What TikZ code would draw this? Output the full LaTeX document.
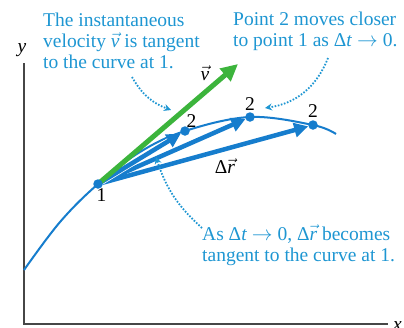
\documentclass[tikz,border=0pt]{standalone}
\usepackage{fontspec}
\setmainfont{Liberation Serif}
\usetikzlibrary{arrows.meta, positioning, calc}
\definecolor{curveblue}{RGB}{22,125,205}
\definecolor{noteblue}{RGB}{30,150,210}
\definecolor{velgreen}{RGB}{60,180,60}
\definecolor{axisgrey}{RGB}{70,70,70}
\newcommand{\dt}{Δ\textit{t}}
\newcommand{\vv}{$\vec{\textit{v}}$}
\newcommand{\vr}{Δ$\vec{\textit{r}}$}
\begin{document}
\begin{tikzpicture}[
  x=1pt, y=-1pt,
  axis/.style={draw=axisgrey, line width=1.3pt},
  path/.style={draw=curveblue, line width=2pt},
  dr/.style={draw=curveblue, line width=4.5pt, -{Triangle[length=14pt, width=14pt]}, shorten >=5pt},
  vel/.style={draw=velgreen, line width=5pt, -{Triangle[length=17pt, width=16pt]}},
  pt/.style={circle, fill=curveblue, inner sep=0pt, minimum size=9.5pt},
  note/.style={text=noteblue, align=left, inner sep=0pt, font=\fontsize{19.5}{21}\selectfont},
  lbl/.style={inner sep=0pt, font=\fontsize{19.5}{21}\selectfont},
  pointer/.style={draw=noteblue, line width=1.8pt, dash pattern=on 1.6pt off 1.6pt,
                  -{Stealth[length=7pt, width=7pt]}}
]
\useasboundingbox (0,0) rectangle (404,327);

% axes
\coordinate (o) at (24,324);
\coordinate (ytop) at (24,63);
\coordinate (xend) at (388,324);
\draw[axis] (ytop) -- (o) -- (xend);
\node[lbl, anchor=base] (ylab) at (22,52) {\textit{y}};
\node[lbl, anchor=base west] (xlab) at (393,330) {\textit{x}};

% the path
\coordinate (p1) at (98,184);
\coordinate (p2a) at (185,131);
\coordinate (p2b) at (250,117);
\coordinate (p2c) at (313,125);
\draw[path] plot[smooth, tension=0.6] coordinates
  {(24,270) (60,222) (p1) (140,152) (p2a) (250,117) (p2c) (336,134)};

% displacement vectors and velocity
\draw[dr] (p1) -- (p2c);
\draw[dr] (p1) -- (p2b);
\draw[dr, preaction={draw=white, line width=6pt, shorten >=12pt, -}] (p1) -- (p2a);
\draw[vel] (p1) -- (238,64) coordinate (vtip);

\node[pt] (n1) at (p1) {};
\node[pt] (n2a) at (p2a) {};
\node[pt] (n2b) at (p2b) {};
\node[pt] (n2c) at (p2c) {};
\node[lbl, below right=1pt and -5pt of n1] (l1) {1};
\node[lbl, above right=0pt and -2pt of n2a] (l2a) {2};
\node[lbl, above=1pt of n2b] (l2b) {2};
\node[lbl, above=2pt of n2c] (l2c) {2};
\node[lbl] (vlab) at (205,73) {\vv};
\node[lbl] (drlab) at (225,166) {\vr};

% notes
\node[note, anchor=north west] (tanv) at (43,13)
  {The instantaneous\\velocity \vv{} is tangent\\to the curve at 1.};
\node[note, anchor=north west] (closer) at (233,12)
  {Point 2 moves closer\\to point 1 as \dt{} $\rightarrow$ 0.};
\node[note, anchor=north west] (limit) at (202,225)
  {As \dt{} $\rightarrow$ 0, \vr{} becomes\\tangent to the curve at 1.};

\coordinate (tanvstart) at (132,77);
\coordinate (tanvend) at (171,110);
\coordinate (closerstart) at (328,58);
\coordinate (closerend) at (265,108);
\coordinate (limitstart) at (202,228);
\coordinate (limitend) at (156,157);
\draw[pointer] (tanvstart) to[bend right=20] (tanvend);
\draw[pointer] (closerstart) to[bend left=30] (closerend);
\draw[pointer] (limitstart) to[bend left=15] (limitend);
\end{tikzpicture}
\end{document}
